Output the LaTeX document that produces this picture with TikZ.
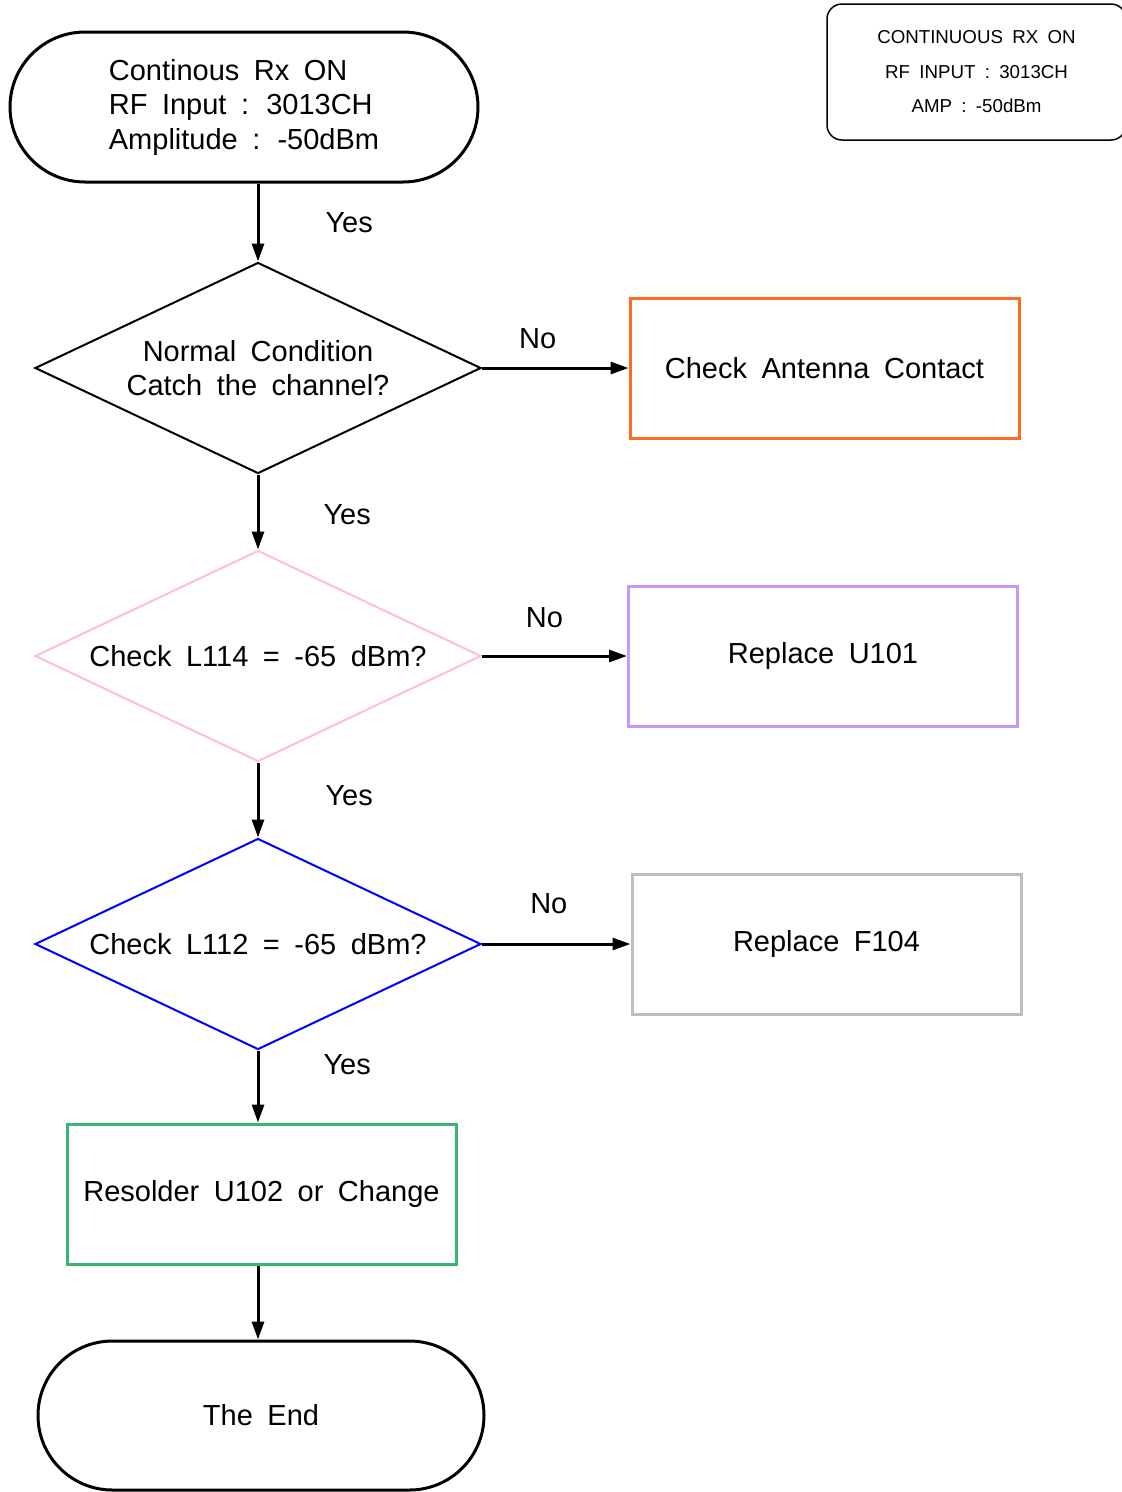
\documentclass[tikz,border=0pt]{standalone}
\usepackage{fontspec}
\setmainfont{Liberation Sans}[WordSpace=1.8]
\usepackage{xcolor}
\usepackage{tikz}
\usetikzlibrary{arrows.meta,shapes.geometric,shapes.misc}
\definecolor{antorange}{RGB}{255,106,33}
\definecolor{upurple}{RGB}{200,150,250}
\definecolor{fgray}{RGB}{190,190,190}
\definecolor{rgreen}{RGB}{60,179,113}
\definecolor{lpink}{RGB}{255,192,203}

\begin{document}
\begin{tikzpicture}[
  x=1pt,y=-1pt,
  font=\fontsize{29}{34.5}\selectfont,
  term/.style={draw,line width=3pt,rounded rectangle,minimum width=468pt,
               minimum height=150pt,inner sep=0pt},
  dec/.style={draw,line width=2pt,diamond,aspect=2.1,inner sep=0pt,align=center,
              minimum width=446pt,minimum height=211pt},
  act/.style={draw,line width=3pt,minimum width=389pt,minimum height=140pt,inner sep=0pt},
  ar/.style={-{Triangle[length=18pt,width=12pt]},line width=3pt},
  lbl/.style={inner sep=0pt},
]
\useasboundingbox (0,0) rectangle (1122,1492);

% note in the corner
\node[draw,line width=1.5pt,rounded corners=15pt,minimum width=299pt,minimum height=136pt,
      align=center,font=\fontsize{18.7}{34.5}\selectfont] (note) at (976.5,72)
  {CONTINUOUS RX ON\\RF INPUT : 3013CH\\AMP : -50dBm};

\node[term,align=left] (start) at (244,107)
  {Continous Rx ON\\RF Input : 3013CH\\Amplitude : -50dBm};
\node[dec] (d1) at (258,368) {Normal Condition\\Catch the channel?};
\node[act,draw=antorange] (ant) at (824.5,368) {Check Antenna Contact};
\node[dec,draw=lpink] (d2) at (258,656) {Check L114 = -65 dBm?};
\node[act,draw=upurple] (u101) at (823,656) {Replace U101};
\node[dec,draw=blue] (d3) at (258,944) {Check L112 = -65 dBm?};
\node[act,draw=fgray] (f104) at (826.5,944) {Replace F104};
\node[act,draw=rgreen] (u102) at (261.5,1194) {Resolder U102 or Change};
\node[term,minimum width=446pt,minimum height=149pt] (fin) at (261,1415.5) {The End};

\draw[ar] (d1.north |- start.south) -- node[lbl,right=66pt] {Yes} (d1.north);
\draw[ar] (d1.east) -- node[lbl,pos=0.38,above=18pt] {No} (ant.west);
\draw[ar] (d1.south) -- node[lbl,pos=0.54,right=64pt] {Yes} (d2.north);
\draw[ar] (d2.east) -- node[lbl,pos=0.43,above=27pt] {No} (u101.west);
\draw[ar] (d2.south) -- node[lbl,pos=0.44,right=66pt] {Yes} (d3.north);
\draw[ar] (d3.east) -- node[lbl,pos=0.45,above=29pt] {No} (f104.west);
\draw[ar] (d3.south) -- node[lbl,pos=0.2,right=64pt] {Yes} (d3.south |- u102.north);
\draw[ar] (u102.south -| d3.south) -- (fin.north -| d3.south);
\end{tikzpicture}
\end{document}
